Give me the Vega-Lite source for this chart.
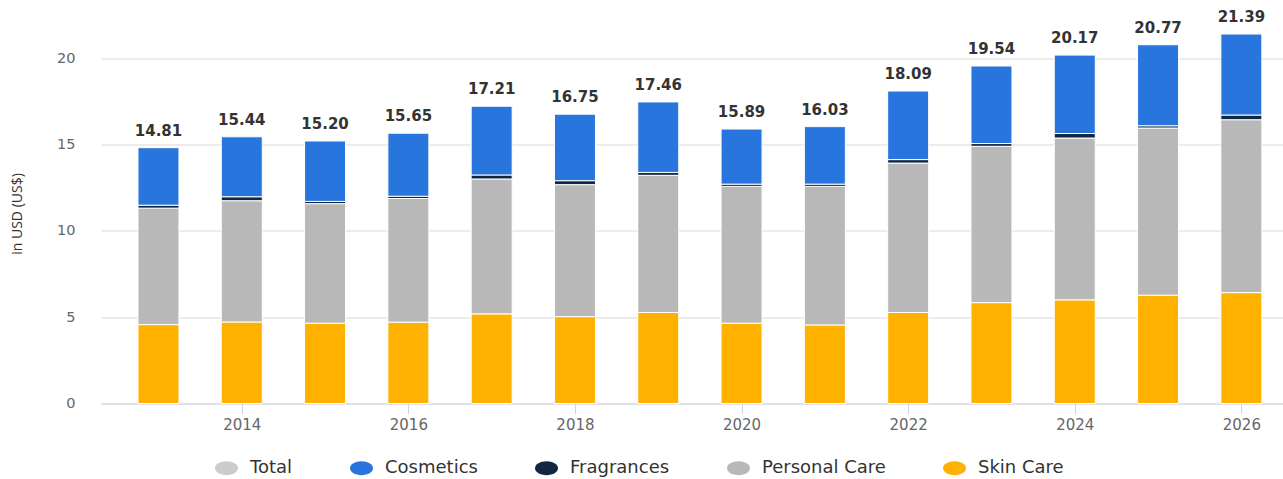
{
  "$schema": "https://vega.github.io/schema/vega-lite/v6.json",
  "autosize": "none",
  "padding": {"left": 101, "top": 23.5, "right": 0, "bottom": 75.5},
  "width": 1182,
  "height": 380,
  "background": "white",
  "config": {
    "view": {"stroke": null},
    "font": "DejaVu Sans"
  },
  "datasets": {
    "segments": [
      {"year": 2013, "segment": "Skin Care", "value": 4.57},
      {"year": 2013, "segment": "Personal Care", "value": 6.74},
      {"year": 2013, "segment": "Fragrances", "value": 0.17},
      {"year": 2013, "segment": "Cosmetics", "value": 3.33},
      {"year": 2014, "segment": "Skin Care", "value": 4.72},
      {"year": 2014, "segment": "Personal Care", "value": 7.02},
      {"year": 2014, "segment": "Fragrances", "value": 0.23},
      {"year": 2014, "segment": "Cosmetics", "value": 3.47},
      {"year": 2015, "segment": "Skin Care", "value": 4.65},
      {"year": 2015, "segment": "Personal Care", "value": 6.92},
      {"year": 2015, "segment": "Fragrances", "value": 0.13},
      {"year": 2015, "segment": "Cosmetics", "value": 3.50},
      {"year": 2016, "segment": "Skin Care", "value": 4.71},
      {"year": 2016, "segment": "Personal Care", "value": 7.16},
      {"year": 2016, "segment": "Fragrances", "value": 0.13},
      {"year": 2016, "segment": "Cosmetics", "value": 3.65},
      {"year": 2017, "segment": "Skin Care", "value": 5.19},
      {"year": 2017, "segment": "Personal Care", "value": 7.81},
      {"year": 2017, "segment": "Fragrances", "value": 0.23},
      {"year": 2017, "segment": "Cosmetics", "value": 3.98},
      {"year": 2018, "segment": "Skin Care", "value": 5.03},
      {"year": 2018, "segment": "Personal Care", "value": 7.64},
      {"year": 2018, "segment": "Fragrances", "value": 0.23},
      {"year": 2018, "segment": "Cosmetics", "value": 3.85},
      {"year": 2019, "segment": "Skin Care", "value": 5.27},
      {"year": 2019, "segment": "Personal Care", "value": 7.94},
      {"year": 2019, "segment": "Fragrances", "value": 0.17},
      {"year": 2019, "segment": "Cosmetics", "value": 4.08},
      {"year": 2020, "segment": "Skin Care", "value": 4.65},
      {"year": 2020, "segment": "Personal Care", "value": 7.92},
      {"year": 2020, "segment": "Fragrances", "value": 0.13},
      {"year": 2020, "segment": "Cosmetics", "value": 3.19},
      {"year": 2021, "segment": "Skin Care", "value": 4.55},
      {"year": 2021, "segment": "Personal Care", "value": 8.02},
      {"year": 2021, "segment": "Fragrances", "value": 0.13},
      {"year": 2021, "segment": "Cosmetics", "value": 3.33},
      {"year": 2022, "segment": "Skin Care", "value": 5.27},
      {"year": 2022, "segment": "Personal Care", "value": 8.65},
      {"year": 2022, "segment": "Fragrances", "value": 0.20},
      {"year": 2022, "segment": "Cosmetics", "value": 3.97},
      {"year": 2023, "segment": "Skin Care", "value": 5.84},
      {"year": 2023, "segment": "Personal Care", "value": 9.05},
      {"year": 2023, "segment": "Fragrances", "value": 0.16},
      {"year": 2023, "segment": "Cosmetics", "value": 4.49},
      {"year": 2024, "segment": "Skin Care", "value": 6.00},
      {"year": 2024, "segment": "Personal Care", "value": 9.37},
      {"year": 2024, "segment": "Fragrances", "value": 0.26},
      {"year": 2024, "segment": "Cosmetics", "value": 4.54},
      {"year": 2025, "segment": "Skin Care", "value": 6.27},
      {"year": 2025, "segment": "Personal Care", "value": 9.68},
      {"year": 2025, "segment": "Fragrances", "value": 0.13},
      {"year": 2025, "segment": "Cosmetics", "value": 4.69},
      {"year": 2026, "segment": "Skin Care", "value": 6.42},
      {"year": 2026, "segment": "Personal Care", "value": 10.01},
      {"year": 2026, "segment": "Fragrances", "value": 0.27},
      {"year": 2026, "segment": "Cosmetics", "value": 4.69}
    ],
    "totals": [
      {"year": 2013, "total": 14.81},
      {"year": 2014, "total": 15.44},
      {"year": 2015, "total": 15.20},
      {"year": 2016, "total": 15.65},
      {"year": 2017, "total": 17.21},
      {"year": 2018, "total": 16.75},
      {"year": 2019, "total": 17.46},
      {"year": 2020, "total": 15.89},
      {"year": 2021, "total": 16.03},
      {"year": 2022, "total": 18.09},
      {"year": 2023, "total": 19.54},
      {"year": 2024, "total": 20.17},
      {"year": 2025, "total": 20.77},
      {"year": 2026, "total": 21.39}
    ]
  },
  "layer": [
    {
      "data": {"name": "segments"},
      "mark": {"type": "bar", "size": 41, "stroke": "white", "strokeWidth": 1},
      "encoding": {
        "x": {
          "field": "year",
          "type": "quantitative",
          "scale": {"domain": [2012.37, 2026.44], "nice": false, "zero": false},
          "axis": {
            "title": null,
            "values": [2014, 2016, 2018, 2020, 2022, 2024, 2026],
            "format": "d",
            "grid": false,
            "domainColor": "#ccd6eb",
            "tickColor": "#ccd6eb",
            "tickSize": 10,
            "labelColor": "#666666",
            "labelFontSize": 15,
            "labelPadding": 4
          }
        },
        "y": {
          "field": "value",
          "type": "quantitative",
          "stack": "zero",
          "scale": {"domain": [0, 22], "nice": false},
          "axis": {
            "title": "in USD (US$)",
            "values": [0, 5, 10, 15, 20],
            "titleFont": "Open Sans",
            "titleFontSize": 14,
            "titleFontWeight": "normal",
            "titleColor": "#333333",
            "titlePadding": 32,
            "labelColor": "#666666",
            "labelFontSize": 14.5,
            "labelPadding": 26,
            "domain": false,
            "ticks": false,
            "gridColor": "#e6e6e6",
            "gridWidth": 1.5
          }
        },
        "color": {
          "field": "segment",
          "type": "nominal",
          "scale": {
            "domain": ["Total", "Cosmetics", "Fragrances", "Personal Care", "Skin Care"],
            "range": ["#cccccc", "#2876dd", "#0f2741", "#b8b8b8", "#ffb100"]
          },
          "legend": {
            "title": null,
            "orient": "none",
            "direction": "horizontal",
            "legendX": 114,
            "legendY": 433,
            "symbolType": "M-1,0 A1,0.6 0 1,0 1,0 A1,0.6 0 1,0 -1,0 Z",
            "symbolSize": 529,
            "symbolStrokeWidth": 0,
            "labelFontSize": 18,
            "labelColor": "#333333",
            "labelOffset": 12,
            "columnPadding": 57,
            "encode": {
              "labels": {"update": {"fill": {"signal": "datum.label === 'Total' ? '#cccccc' : '#333333'"}}}
            }
          }
        },
        "order": {"field": "segment", "sort": "descending"}
      }
    },
    {
      "data": {"name": "totals"},
      "mark": {"type": "text", "dy": -9, "fontSize": 15, "fontWeight": "bold", "color": "#333333", "baseline": "bottom"},
      "encoding": {
        "x": {"field": "year", "type": "quantitative"},
        "y": {"field": "total", "type": "quantitative"},
        "text": {"field": "total", "type": "quantitative", "format": ".2f"}
      }
    }
  ]
}
